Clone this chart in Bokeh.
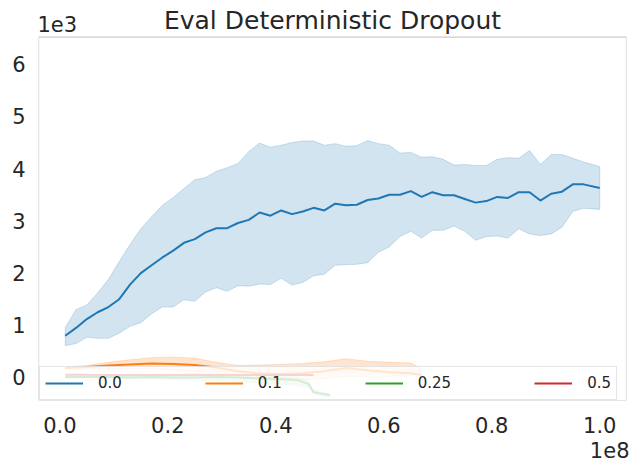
from bokeh.plotting import figure
from bokeh.models import (Range1d, FixedTicker, CustomJSTickFormatter, Legend, LegendItem,
                          Label, Title, BoxAnnotation)
from bokeh.embed import file_html
from bokeh.resources import INLINE

# ---------------- data (x in units of 1e8 steps, y in units of 1e3) ----------------
series_names = ["0.0", "0.1", "0.25", "0.5"]
colors = ["#1f77b4", "#ff7f0e", "#2ca02c", "#d62728"]

x_blue = [0.01, 0.03, 0.05, 0.07, 0.09, 0.11, 0.13, 0.15, 0.17, 0.19,
          0.21, 0.23, 0.25, 0.27, 0.29, 0.31, 0.33, 0.35, 0.37, 0.39,
          0.41, 0.43, 0.45, 0.47, 0.49, 0.51, 0.53, 0.55, 0.57, 0.59,
          0.61, 0.63, 0.65, 0.67, 0.69, 0.71, 0.73, 0.75, 0.77, 0.79,
          0.81, 0.83, 0.85, 0.87, 0.89, 0.91, 0.93, 0.95, 0.97, 1.00]
mean_blue = [0.80, 0.95, 1.12, 1.25, 1.35, 1.50, 1.78, 2.00, 2.15, 2.30,
             2.43, 2.58, 2.65, 2.78, 2.86, 2.86, 2.96, 3.02, 3.16, 3.10,
             3.20, 3.13, 3.18, 3.25, 3.20, 3.33, 3.30, 3.31, 3.40, 3.43,
             3.50, 3.50, 3.57, 3.46, 3.55, 3.49, 3.49, 3.42, 3.35, 3.38,
             3.46, 3.44, 3.55, 3.55, 3.39, 3.52, 3.56, 3.70, 3.70, 3.63]
upper_blue = [0.96, 1.30, 1.39, 1.62, 1.88, 2.22, 2.55, 2.85, 3.08, 3.30,
              3.45, 3.62, 3.79, 3.83, 3.95, 4.02, 4.10, 4.33, 4.49, 4.41,
              4.45, 4.50, 4.53, 4.53, 4.45, 4.48, 4.43, 4.44, 4.54, 4.48,
              4.45, 4.30, 4.31, 4.22, 4.23, 4.18, 4.07, 4.08, 4.06, 4.06,
              4.18, 4.21, 4.20, 4.35, 4.08, 4.27, 4.27, 4.20, 4.13, 4.04]
lower_blue = [0.61, 0.65, 0.77, 0.75, 0.75, 0.85, 0.98, 1.05, 1.22, 1.35,
              1.35, 1.49, 1.46, 1.64, 1.72, 1.65, 1.76, 1.75, 1.79, 1.78,
              1.90, 1.77, 1.82, 1.95, 1.98, 2.15, 2.16, 2.17, 2.20, 2.40,
              2.50, 2.70, 2.80, 2.67, 2.82, 2.82, 2.90, 2.80, 2.63, 2.70,
              2.71, 2.67, 2.85, 2.75, 2.72, 2.75, 2.88, 3.18, 3.24, 3.22]

x_orange = [0.01, 0.05, 0.09, 0.13, 0.17, 0.21, 0.25, 0.29, 0.33,
            0.37, 0.41, 0.45, 0.49, 0.53, 0.57, 0.61, 0.65, 0.67]
mean_orange = [0.18, 0.20, 0.23, 0.25, 0.27, 0.26, 0.24, 0.19, 0.12,
               0.08, 0.06, 0.08, 0.12, 0.18, 0.14, 0.10, 0.08, 0.05]
upper_orange = [0.20, 0.23, 0.29, 0.34, 0.38, 0.39, 0.37, 0.29, 0.23,
                0.24, 0.25, 0.27, 0.30, 0.36, 0.31, 0.29, 0.28, 0.17]
lower_orange = [0.15, 0.16, 0.17, 0.17, 0.17, 0.14, 0.12, 0.08, 0.04,
                -0.03, -0.06, -0.05, -0.02, 0.02, 0.01, 0.02, 0.03, 0.02]

x_green = [0.01, 0.05, 0.09, 0.13, 0.17, 0.21, 0.25, 0.29, 0.33, 0.37, 0.41, 0.44, 0.46, 0.47, 0.50]
mean_green = [0.01, 0.01, 0.01, 0.00, 0.01, 0.00, 0.00, 0.01, 0.00, -0.02, -0.03, -0.05, -0.12, -0.28, -0.34]
upper_green = [0.03, 0.03, 0.03, 0.02, 0.03, 0.02, 0.02, 0.03, 0.02, 0.01, 0.00, -0.01, -0.05, -0.24, -0.31]
lower_green = [-0.01, -0.01, -0.02, -0.03, -0.03, -0.04, -0.05, -0.06, -0.08, -0.11, -0.13, -0.15, -0.20, -0.32, -0.37]

x_red = [0.01, 0.05, 0.09, 0.13, 0.17, 0.21, 0.25, 0.29, 0.33, 0.37, 0.41, 0.45, 0.47]
mean_red = [0.055, 0.052, 0.050, 0.050, 0.048, 0.050, 0.052, 0.050, 0.049, 0.050, 0.051, 0.050, 0.048]
upper_red = [0.065, 0.062, 0.060, 0.060, 0.058, 0.060, 0.062, 0.060, 0.059, 0.060, 0.061, 0.060, 0.058]
lower_red = [0.045, 0.042, 0.040, 0.040, 0.038, 0.040, 0.042, 0.040, 0.039, 0.040, 0.041, 0.040, 0.038]

x_ticks = [0.0, 0.2, 0.4, 0.6, 0.8, 1.0]
y_ticks = [0, 1, 2, 3, 4, 5, 6]
title_text = "Eval Deterministic Dropout"
y_offset_text = "1e3"
x_offset_text = "1e8"

X_SCALE = 1e8
Y_SCALE = 1e3

TEXT = "#262626"
FONT = "DejaVu Sans"
SPINE = "#cccccc"

# axes limits (the box drawn as spines)
X_LO, X_HI = -0.0395, 1.0495
Y_LO, Y_HI = -0.4406, 6.52
# frame extends above the axes box to leave room for the title inside the frame
Y_FRAME_TOP = 7.222

FW, FH = 588, 400
p = figure(frame_width=FW, frame_height=FH,
           min_border_left=38, min_border_right=5, min_border_top=0, min_border_bottom=70,
           output_backend="svg", toolbar_location=None,
           x_range=Range1d(X_LO * X_SCALE, X_HI * X_SCALE),
           y_range=Range1d(Y_LO * Y_SCALE, Y_FRAME_TOP * Y_SCALE))
p.background_fill_color = "white"
p.border_fill_color = "white"
p.outline_line_color = None
p.xgrid.visible = False
p.ygrid.visible = False

for ax in (p.xaxis[0], p.yaxis[0]):
    ax.axis_line_color = None
    ax.major_tick_line_color = None
    ax.minor_tick_line_color = None
    ax.major_tick_out = 0
    ax.major_tick_in = 0
    ax.minor_tick_out = 0
    ax.minor_tick_in = 0
    ax.major_label_text_font = FONT
    ax.major_label_text_font_size = "21px"
    ax.major_label_text_color = TEXT

p.xaxis[0].ticker = FixedTicker(ticks=[t * X_SCALE for t in x_ticks])
p.xaxis[0].formatter = CustomJSTickFormatter(code="return (tick/1e8).toFixed(1);")
p.xaxis[0].major_label_standoff = 16
p.yaxis[0].ticker = FixedTicker(ticks=[t * Y_SCALE for t in y_ticks])
p.yaxis[0].formatter = CustomJSTickFormatter(code="return (tick/1e3).toFixed(0);")
p.yaxis[0].major_label_standoff = 13

# spines
p.add_layout(BoxAnnotation(left=X_LO * X_SCALE, right=X_HI * X_SCALE,
                           bottom=Y_LO * Y_SCALE, top=Y_HI * Y_SCALE,
                           fill_alpha=0, line_color=SPINE, line_alpha=1.0, line_dash="solid",
                           line_width=1.25, level="underlay"))

all_series = [
    (x_blue, mean_blue, upper_blue, lower_blue),
    (x_orange, mean_orange, upper_orange, lower_orange),
    (x_green, mean_green, upper_green, lower_green),
    (x_red, mean_red, upper_red, lower_red),
]

for name, col, (xs, m, up, lo) in zip(series_names, colors, all_series):
    xx = [v * X_SCALE for v in xs]
    poly_x = xx + xx[::-1]
    poly_y = [v * Y_SCALE for v in up] + [v * Y_SCALE for v in lo[::-1]]
    p.patch(poly_x, poly_y, fill_color=col, fill_alpha=0.2, line_color=col, line_alpha=0.2, line_width=1)

items = []
for name, col, (xs, m, up, lo) in zip(series_names, colors, all_series):
    r = p.line([v * X_SCALE for v in xs], [v * Y_SCALE for v in m], line_color=col, line_width=2)
    items.append(LegendItem(label=name, renderers=[r]))

legend = Legend(items=items, orientation="horizontal", location=(1, 0), margin=0,
                spacing=83, padding=5, glyph_width=38, glyph_height=22, label_height=22,
                label_standoff=15, label_text_font=FONT, label_text_font_size="15px",
                label_text_color=TEXT, border_line_color=SPINE, border_line_width=1,
                background_fill_color="white", background_fill_alpha=0.8)
p.add_layout(legend)

# title and y offset text (inside the extended frame, above the axes box)
p.add_layout(Label(x=FW / 2, y=FH - 20, x_units="screen", y_units="screen", text=title_text,
                   text_align="center", text_baseline="alphabetic", text_font=FONT,
                   text_font_size="25px", text_color=TEXT))
p.add_layout(Label(x=-1, y=FH - 23, x_units="screen", y_units="screen", text=y_offset_text,
                   text_align="left", text_baseline="alphabetic", text_font=FONT,
                   text_font_size="21px", text_color=TEXT))
# x offset text below the tick labels
p.add_layout(Title(text=x_offset_text, align="right", text_font=FONT, text_font_size="21px",
                   text_font_style="normal", text_color=TEXT, offset=-3, standoff=8), "below")

open("out.html", "w").write(file_html(p, INLINE))
